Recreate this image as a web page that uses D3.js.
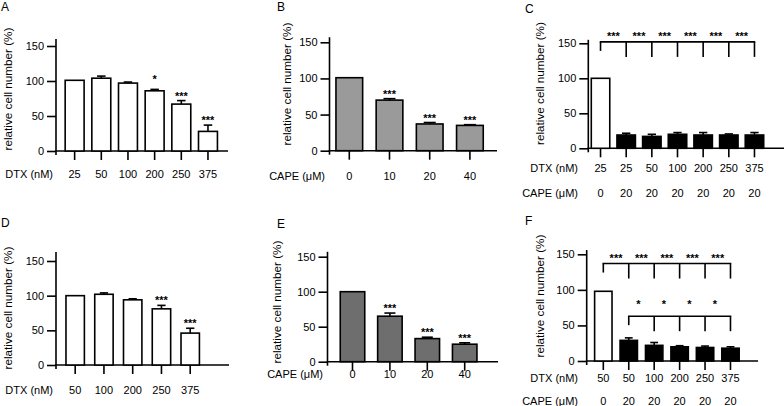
<!DOCTYPE html>
<html>
<head>
<meta charset="utf-8">
<script src="https://cdn.jsdelivr.net/npm/d3@7"></script>
<style>
html,body{margin:0;padding:0;background:#fff;}
svg text{font-family:"Liberation Sans",Arial,sans-serif;fill:#000;}
</style>
</head>
<body>
<svg id="chart" width="784" height="406"></svg>
<script>
// ---------- DATA ----------
const yTicks = [0, 50, 100, 150];

// Panel A
const aDTX = ["25", "50", "100", "200", "250", "375"];
const aValues = [101, 104, 97, 86, 67, 28];
const aErrors = [0, 3, 1.5, 2, 5, 9];
const aStars = ["", "", "", "*", "***", "***"];

// Panel B
const bCAPE = ["0", "10", "20", "40"];
const bValues = [101, 70, 37, 35];
const bErrors = [0, 2, 2, 1];
const bStars = ["", "***", "***", "***"];

// Panel C
const cDTX = ["25", "25", "50", "100", "200", "250", "375"];
const cCAPE = ["0", "20", "20", "20", "20", "20", "20"];
const cValues = [100, 19, 17, 20, 19, 19, 19];
const cErrors = [0, 2.5, 3, 2.5, 3.5, 1.5, 3.5];
const cBracketStars = ["***", "***", "***", "***", "***", "***"];

// Panel D
const dDTX = ["50", "100", "200", "250", "375"];
const dValues = [100, 102, 94, 81, 46];
const dErrors = [0, 2, 1.5, 5, 7];
const dStars = ["", "", "", "***", "***"];

// Panel E
const eCAPE = ["0", "10", "20", "40"];
const eValues = [100, 65, 33, 25];
const eErrors = [0, 4.5, 2, 2];
const eStars = ["", "***", "***", "***"];

// Panel F
const fDTX = ["50", "50", "100", "200", "250", "375"];
const fCAPE = ["0", "20", "20", "20", "20", "20"];
const fValues = [98, 29, 22, 20, 19, 18];
const fErrors = [0, 3.5, 4, 1.5, 2, 2];
const fBracketTopStars = ["***", "***", "***", "***", "***"];
const fBracketLowStars = ["*", "*", "*", "*"];

const yLabel = "relative cell number (%)";

// ---------- DRAWING ----------
const svg = d3.select("#chart");
const FS = 11;
const LW = 1.6;

function drawPanel(cfg) {
  const g = svg.append("g");
  const n = cfg.values.length;
  const y = d3.scaleLinear().domain([0, 150]).range([cfg.y0, cfg.y150]);
  const x = d3.scaleBand().domain(d3.range(n)).range(cfg.xr)
    .paddingInner(cfg.pi).paddingOuter(cfg.pi / 2);
  const cx = i => x(i) + x.bandwidth() / 2;

  // y axis
  const yAxis = d3.axisLeft(y).tickValues(yTicks).tickSize(9).tickPadding(3).tickSizeOuter(0);
  const ya = g.append("g").attr("transform", `translate(${cfg.ax},0)`).call(yAxis);
  ya.select(".domain").remove();
  ya.selectAll(".tick line").attr("stroke", "#000").attr("stroke-width", LW);
  ya.selectAll(".tick text").attr("font-size", FS).attr("font-family", '"Liberation Sans",Arial,sans-serif').attr("fill", "#000");
  g.append("line").attr("x1", cfg.ax).attr("x2", cfg.ax)
    .attr("y1", y(cfg.topVal)).attr("y2", cfg.y0 + 4)
    .attr("stroke", "#000").attr("stroke-width", LW);

  // x axis
  g.append("line").attr("x1", cfg.ax - 0.8).attr("x2", cfg.xEnd)
    .attr("y1", cfg.y0).attr("y2", cfg.y0)
    .attr("stroke", "#000").attr("stroke-width", LW);
  g.selectAll(".xt").data(d3.range(n)).join("line")
    .attr("x1", cx).attr("x2", cx).attr("y1", cfg.y0).attr("y2", cfg.y0 + 9)
    .attr("stroke", "#000").attr("stroke-width", LW);

  // bars
  g.selectAll(".bar").data(cfg.values).join("rect")
    .attr("x", (d, i) => x(i)).attr("width", x.bandwidth())
    .attr("y", d => y(d)).attr("height", d => cfg.y0 - y(d))
    .attr("fill", (d, i) => cfg.fills[i]).attr("stroke", "#000").attr("stroke-width", LW);

  // error bars
  const capW = x.bandwidth() * 0.45;
  cfg.values.forEach((v, i) => {
    const e = cfg.errors[i];
    if (!e) return;
    g.append("line").attr("x1", cx(i)).attr("x2", cx(i)).attr("y1", y(v)).attr("y2", y(v + e))
      .attr("stroke", "#000").attr("stroke-width", LW);
    g.append("line").attr("x1", cx(i) - capW / 2).attr("x2", cx(i) + capW / 2)
      .attr("y1", y(v + e)).attr("y2", y(v + e))
      .attr("stroke", "#000").attr("stroke-width", LW);
  });

  // stars over bars
  if (cfg.stars) {
    cfg.stars.forEach((s, i) => {
      if (!s) return;
      const top = y(cfg.values[i] + cfg.errors[i]);
      g.append("text").attr("x", cx(i)).attr("y", top - 1 - (s === "*" ? 5 : 0))
        .attr("text-anchor", "middle").attr("font-size", FS).attr("font-weight", "bold").text(s);
    });
  }

  // brackets
  (cfg.brackets || []).forEach(b => {
    const ly = y(b.level);
    const xs = [cx(b.from)].concat(b.to.map(cx));
    g.append("line").attr("x1", xs[0] - 0.8).attr("x2", xs[xs.length - 1] + 0.8)
      .attr("y1", ly).attr("y2", ly).attr("stroke", "#000").attr("stroke-width", LW);
    g.append("line").attr("x1", xs[0]).attr("x2", xs[0]).attr("y1", ly).attr("y2", ly + 9)
      .attr("stroke", "#000").attr("stroke-width", LW);
    b.to.forEach(t => {
      g.append("line").attr("x1", cx(t)).attr("x2", cx(t)).attr("y1", ly).attr("y2", ly + 15)
        .attr("stroke", "#000").attr("stroke-width", LW);
    });
    b.stars.forEach((s, k) => {
      const mx = (xs[k] + xs[k + 1]) / 2 + (b.shift || 0);
      g.append("text").attr("x", mx).attr("y", ly - 2 - (s === "*" ? 6 : 0))
        .attr("text-anchor", "middle").attr("font-size", FS).attr("font-weight", "bold").text(s);
    });
  });

  // x tick label rows
  cfg.rows.forEach(r => {
    g.append("text").attr("x", cfg.rowLabelX).attr("y", r.y)
      .attr("text-anchor", "end").attr("font-size", FS).text(r.title);
    g.selectAll(null).data(r.labels).join("text")
      .attr("x", (d, i) => cx(i)).attr("y", r.y)
      .attr("text-anchor", "middle").attr("font-size", FS).text(d => d);
  });

  // y label
  g.append("text").attr("transform", `translate(${cfg.ylx},${cfg.yly}) rotate(-90)`)
    .attr("text-anchor", "middle").attr("dy", "0.35em").attr("font-size", 11.7).text(yLabel);

  // panel letter
  g.append("text").attr("x", cfg.letterX).attr("y", cfg.letterY)
    .attr("font-size", 12).text(cfg.letter);
}

const white = n => Array(n).fill("#fff");

drawPanel({
  letter: "A", letterX: 1, letterY: 11,
  values: aValues, errors: aErrors, stars: aStars, fills: white(aValues.length),
  ax: 56, y0: 151, y150: 46, topVal: 160, xEnd: 228,
  xr: [61.3, 221.3], pi: 0.29,
  rows: [{ title: "DTX (nM)", labels: aDTX, y: 178 }], rowLabelX: 53,
  ylx: 7.5, yly: 89
});

drawPanel({
  letter: "B", letterX: 277, letterY: 11,
  values: bValues, errors: bErrors, stars: bStars, fills: Array(bValues.length).fill("#9a9a9a"),
  ax: 329.5, y0: 150.7, y150: 42.3, topVal: 157, xEnd: 497,
  xr: [329.2, 490], pi: 0.336,
  rows: [{ title: "CAPE (\u03bcM)", labels: bCAPE, y: 179.5 }], rowLabelX: 325,
  ylx: 286.5, yly: 84
});

drawPanel({
  letter: "C", letterX: 525, letterY: 13,
  values: cValues, errors: cErrors, fills: ["#fff"].concat(Array(cValues.length - 1).fill("#000")),
  ax: 588.3, y0: 148.3, y150: 43.3, topVal: 155, xEnd: 784,
  xr: [587.7, 767.3], pi: 0.28,
  brackets: [{ from: 0, to: [1, 2, 3, 4, 5, 6], level: 152, stars: cBracketStars }],
  rows: [{ title: "DTX (nM)", labels: cDTX, y: 172 }, { title: "CAPE (\u03bcM)", labels: cCAPE, y: 197 }],
  rowLabelX: 578,
  ylx: 540, yly: 83.5
});

drawPanel({
  letter: "D", letterX: 1, letterY: 227,
  values: dValues, errors: dErrors, stars: dStars, fills: white(dValues.length),
  ax: 56, y0: 365, y150: 261, topVal: 163, xEnd: 229,
  xr: [60.8, 204.6], pi: 0.36,
  rows: [{ title: "DTX (nM)", labels: dDTX, y: 394 }], rowLabelX: 53,
  ylx: 7.5, yly: 308
});

drawPanel({
  letter: "E", letterX: 277, letterY: 228,
  values: eValues, errors: eErrors, stars: eStars, fills: Array(eValues.length).fill("#6e6e6e"),
  ax: 327.5, y0: 361.7, y150: 256.7, topVal: 157, xEnd: 498,
  xr: [333.8, 483.4], pi: 0.345,
  rows: [{ title: "CAPE (\u03bcM)", labels: eCAPE, y: 378 }], rowLabelX: 323,
  ylx: 276.7, yly: 302
});

drawPanel({
  letter: "F", letterX: 525, letterY: 225,
  values: fValues, errors: fErrors, fills: ["#fff"].concat(Array(fValues.length - 1).fill("#000")),
  ax: 586.7, y0: 361, y150: 254.3, topVal: 156, xEnd: 758,
  xr: [590.6, 743.2], pi: 0.316,
  brackets: [
    { from: 0, to: [1, 2, 3, 4, 5], level: 137, stars: fBracketTopStars },
    { from: 1, to: [2, 3, 4, 5], level: 63, stars: fBracketLowStars, shift: -3 }
  ],
  rows: [{ title: "DTX (nM)", labels: fDTX, y: 382 }, { title: "CAPE (\u03bcM)", labels: fCAPE, y: 405 }],
  rowLabelX: 578,
  ylx: 540, yly: 296
});
</script>
</body>
</html>
